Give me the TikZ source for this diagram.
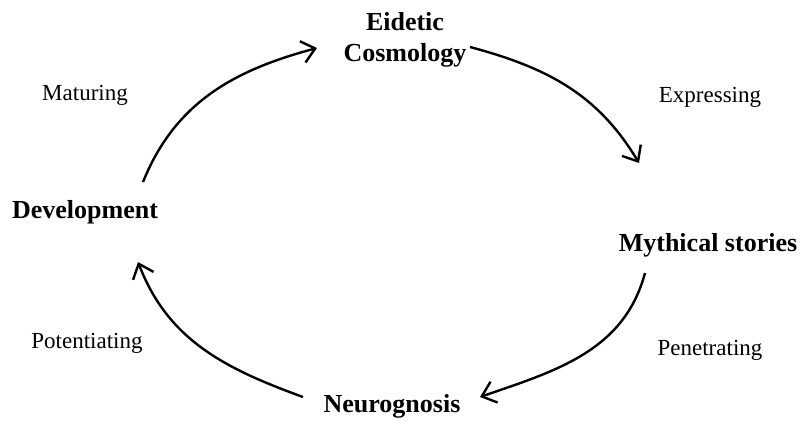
\documentclass[tikz,border=0pt]{standalone}
\usepackage{fontspec}
\setmainfont{Liberation Serif}
\usepackage{tikz}
\usetikzlibrary{arrows.meta}

\begin{document}
\begin{tikzpicture}[x=1pt,y=1pt,
  stage/.style={font=\fontsize{26}{31}\selectfont\bfseries,align=center,inner sep=0pt},
  lab/.style={font=\fontsize{23}{27}\selectfont,inner sep=0pt},
  arr/.style={-{Straight Barb[length=13pt,width=22pt,line width=2.4pt]},line width=2.4pt}]
\useasboundingbox (0,0) rectangle (807,423);
\node[stage] (cosmo) at (405,383) {Eidetic\\Cosmology};
\node[stage] (myth) at (708,178) {Mythical stories};
\node[stage] (neuro) at (392,17) {Neurognosis};
\node[stage] (dev) at (85,211) {Development};
\node[lab] (mat) at (85,328) {Maturing};
\node[lab] (expr) at (710,326) {Expressing};
\node[lab] (pot) at (87,80) {Potentiating};
\node[lab] (pen) at (710,73) {Penetrating};
\draw[arr] ([shift={(58,30)}]dev.center) to[out=68,in=195] ([shift={(-88,-8)}]cosmo.center);
\draw[arr] ([shift={(65,-7)}]cosmo.center) to[out=-15,in=121] ([shift={(-69,82)}]myth.center);
\draw[arr] ([shift={(-63,-28)}]myth.center) to[out=-105,in=19] ([shift={(88,9)}]neuro.center);
\draw[arr] ([shift={(-89,9)}]neuro.center) to[out=160,in=-69] ([shift={(53,-50)}]dev.center);
\end{tikzpicture}
\end{document}
